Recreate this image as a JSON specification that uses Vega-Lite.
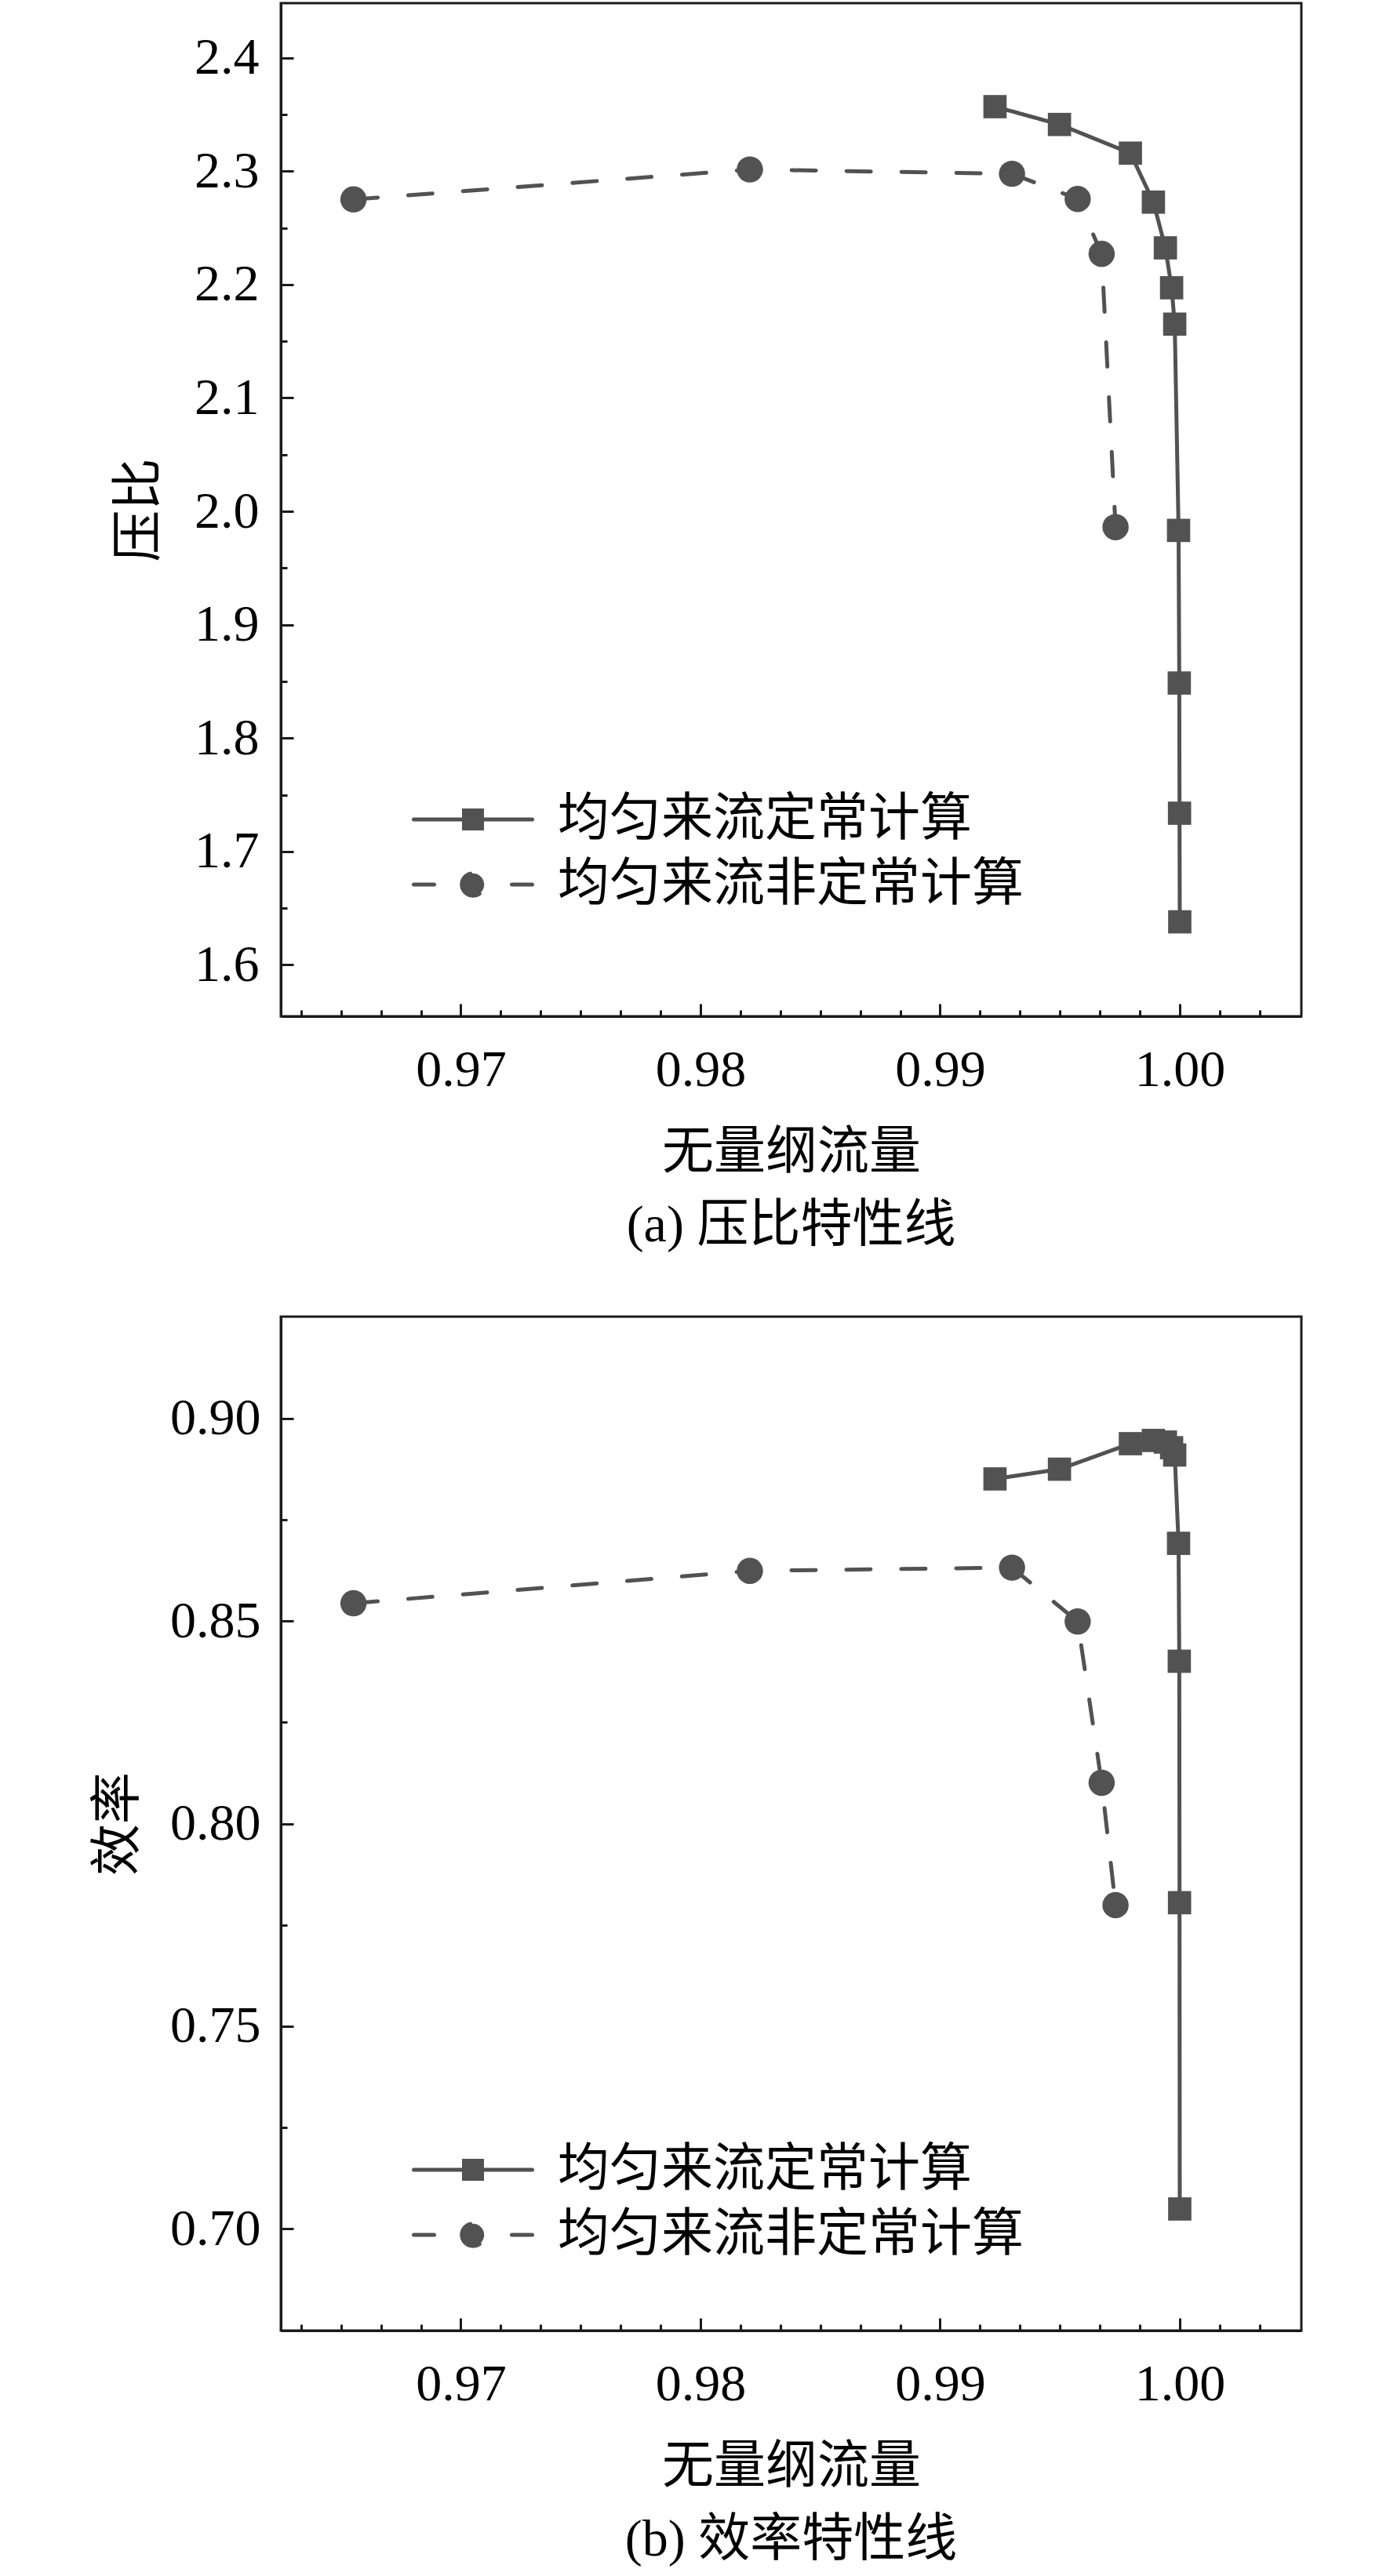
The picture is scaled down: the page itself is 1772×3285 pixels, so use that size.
{
  "$schema": "https://vega.github.io/schema/vega-lite/v6.json",
  "background": "white",
  "padding": {"left": 116, "top": 2, "right": 5, "bottom": 5},
  "spacing": 79,
  "datasets": {
    "points": [
      {"series": "均匀来流定常计算", "seq": 1, "flow": 0.99229, "pr": 2.3569, "eff": 0.8851},
      {"series": "均匀来流定常计算", "seq": 2, "flow": 0.99498, "pr": 2.3412, "eff": 0.8875},
      {"series": "均匀来流定常计算", "seq": 3, "flow": 0.99794, "pr": 2.3159, "eff": 0.8938},
      {"series": "均匀来流定常计算", "seq": 4, "flow": 0.99890, "pr": 2.2727, "eff": 0.8946},
      {"series": "均匀来流定常计算", "seq": 5, "flow": 0.99940, "pr": 2.2324, "eff": 0.8942},
      {"series": "均匀来流定常计算", "seq": 6, "flow": 0.99966, "pr": 2.1972, "eff": 0.8928},
      {"series": "均匀来流定常计算", "seq": 7, "flow": 0.99979, "pr": 2.1651, "eff": 0.8910},
      {"series": "均匀来流定常计算", "seq": 8, "flow": 0.99995, "pr": 1.9832, "eff": 0.8692},
      {"series": "均匀来流定常计算", "seq": 9, "flow": 0.99998, "pr": 1.8486, "eff": 0.8401},
      {"series": "均匀来流定常计算", "seq": 10, "flow": 0.99999, "pr": 1.7338, "eff": 0.7805},
      {"series": "均匀来流定常计算", "seq": 11, "flow": 1.00000, "pr": 1.6380, "eff": 0.7049},
      {"series": "均匀来流非定常计算", "seq": 1, "flow": 0.96552, "pr": 2.2751, "eff": 0.8544},
      {"series": "均匀来流非定常计算", "seq": 2, "flow": 0.98206, "pr": 2.3015, "eff": 0.8624},
      {"series": "均匀来流非定常计算", "seq": 3, "flow": 0.99300, "pr": 2.2977, "eff": 0.8632},
      {"series": "均匀来流非定常计算", "seq": 4, "flow": 0.99574, "pr": 2.2755, "eff": 0.8499},
      {"series": "均匀来流非定常计算", "seq": 5, "flow": 0.99674, "pr": 2.2271, "eff": 0.8101},
      {"series": "均匀来流非定常计算", "seq": 6, "flow": 0.99732, "pr": 1.9861, "eff": 0.7799}
    ]
  },
  "config": {
    "view": {"stroke": "#1a1a1a", "strokeWidth": 3},
    "axis": {
      "grid": false,
      "domainColor": "#1a1a1a",
      "domainWidth": 3,
      "tickColor": "#1a1a1a",
      "tickWidth": 3,
      "labelFont": "Liberation Serif",
      "labelFontSize": 66,
      "labelColor": "#000000",
      "labelOverlap": false,
      "labelFlush": false,
      "labelBound": false,
      "titleFont": "Noto Sans CJK SC",
      "titleFontSize": 66,
      "titleFontWeight": "normal",
      "titleColor": "#000000"
    },
    "legend": {
      "title": null,
      "orient": "none",
      "padding": 0,
      "rowPadding": 17,
      "symbolSize": 3721,
      "symbolStrokeWidth": 5,
      "symbolStrokeColor": "#525252",
      "symbolFillColor": "#525252",
      "labelFont": "Noto Sans CJK SC",
      "labelFontSize": 66,
      "labelColor": "#000000",
      "labelLimit": 1000,
      "labelOffset": 75
    },
    "title": {
      "font": "Liberation Serif, Noto Sans CJK SC",
      "fontSize": 66,
      "fontWeight": "normal",
      "color": "#000000"
    }
  },
  "resolve": {
    "scale": {"x": "independent", "y": "independent", "strokeDash": "independent"},
    "legend": {"strokeDash": "independent"}
  },
  "vconcat": [
    {
      "width": 1301,
      "height": 1292,
      "data": {"name": "points"},
      "title": {"text": "(a) 压比特性线", "orient": "bottom", "frame": "group", "anchor": "middle", "offset": 29},
      "encoding": {
        "x": {
          "field": "flow",
          "type": "quantitative",
          "scale": {"domain": [0.962488, 1.005074], "nice": false, "zero": false},
          "axis": {
            "title": "无量纲流量",
            "titlePadding": 32,
            "labelPadding": 52,
            "values": [0.963333, 0.965, 0.966667, 0.968333, 0.97, 0.971667, 0.973333, 0.975, 0.976667, 0.978333, 0.98, 0.981667, 0.983333, 0.985, 0.986667, 0.988333, 0.99, 0.991667, 0.993333, 0.995, 0.996667, 0.998333, 1.0, 1.001667, 1.003333],
            "labelExpr": "abs(datum.value * 100 - round(datum.value * 100)) < 0.01 ? format(datum.value, '.2f') : ''",
            "tickSize": {"condition": {"test": "abs(datum.value * 100 - round(datum.value * 100)) < 0.01", "value": -16}, "value": -8}
          }
        },
        "y": {
          "field": "pr",
          "type": "quantitative",
          "scale": {"domain": [1.5547, 2.4482], "nice": false, "zero": false},
          "axis": {
            "title": "压比",
            "titlePadding": 36,
            "labelPadding": 44,
            "values": [1.6, 1.65, 1.7, 1.75, 1.8, 1.85, 1.9, 1.95, 2.0, 2.05, 2.1, 2.15, 2.2, 2.25, 2.3, 2.35, 2.4],
            "labelExpr": "abs(datum.value * 10 - round(datum.value * 10)) < 0.01 ? format(datum.value, '.1f') : ''",
            "tickSize": {"condition": {"test": "abs(datum.value * 10 - round(datum.value * 10)) < 0.01", "value": -16}, "value": -8}
          }
        }
      },
      "layer": [
        {
          "mark": {"type": "line", "color": "#525252", "strokeWidth": 5, "strokeCap": "round"},
          "encoding": {
            "order": {"field": "seq", "type": "quantitative"},
            "strokeDash": {
              "field": "series",
              "type": "nominal",
              "scale": {"domain": ["均匀来流定常计算", "均匀来流非定常计算"], "range": [[1, 0], [31, 39]]},
              "legend": {
                "legendX": 212,
                "legendY": 1008,
                "encode": {
                  "symbols": {
                    "update": {
                      "shape": {"signal": "datum.value === '均匀来流非定常计算' ? 'M-2.475,0L-1.623,0M1.623,0L2.475,0M-0.467,0A0.467,0.467 0 1,0 0.467,0A0.467,0.467 0 1,0 -0.467,0Z' : 'M-2.475,0L2.475,0M-0.377,-0.377L0.377,-0.377L0.377,0.377L-0.377,0.377Z'"},
                      "strokeDash": {"value": [1, 0]},
                      "strokeCap": {"value": "round"},
                      "fill": {"value": "#525252"},
                      "stroke": {"value": "#525252"}
                    }
                  }
                }
              }
            }
          }
        },
        {
          "transform": [{"filter": "datum.series === '均匀来流定常计算'"}],
          "mark": {"type": "point", "shape": "square", "filled": true, "opacity": 1, "color": "#525252", "size": 880}
        },
        {
          "transform": [{"filter": "datum.series === '均匀来流非定常计算'"}],
          "mark": {"type": "point", "shape": "circle", "filled": true, "opacity": 1, "color": "#525252", "size": 1120}
        }
      ]
    },
    {
      "width": 1301,
      "height": 1293,
      "data": {"name": "points"},
      "title": {"text": "(b) 效率特性线", "orient": "bottom", "frame": "group", "anchor": "middle", "offset": 29},
      "encoding": {
        "x": {
          "field": "flow",
          "type": "quantitative",
          "scale": {"domain": [0.962488, 1.005074], "nice": false, "zero": false},
          "axis": {
            "title": "无量纲流量",
            "titlePadding": 32,
            "labelPadding": 52,
            "values": [0.963333, 0.965, 0.966667, 0.968333, 0.97, 0.971667, 0.973333, 0.975, 0.976667, 0.978333, 0.98, 0.981667, 0.983333, 0.985, 0.986667, 0.988333, 0.99, 0.991667, 0.993333, 0.995, 0.996667, 0.998333, 1.0, 1.001667, 1.003333],
            "labelExpr": "abs(datum.value * 100 - round(datum.value * 100)) < 0.01 ? format(datum.value, '.2f') : ''",
            "tickSize": {"condition": {"test": "abs(datum.value * 100 - round(datum.value * 100)) < 0.01", "value": -16}, "value": -8}
          }
        },
        "y": {
          "field": "eff",
          "type": "quantitative",
          "scale": {"domain": [0.67489, 0.92516], "nice": false, "zero": false},
          "axis": {
            "title": "效率",
            "titlePadding": 32,
            "labelPadding": 42,
            "values": [0.7, 0.725, 0.75, 0.775, 0.8, 0.825, 0.85, 0.875, 0.9],
            "labelExpr": "abs(datum.value * 20 - round(datum.value * 20)) < 0.01 ? format(datum.value, '.2f') : ''",
            "tickSize": {"condition": {"test": "abs(datum.value * 20 - round(datum.value * 20)) < 0.01", "value": -16}, "value": -8}
          }
        }
      },
      "layer": [
        {
          "mark": {"type": "line", "color": "#525252", "strokeWidth": 5, "strokeCap": "round"},
          "encoding": {
            "order": {"field": "seq", "type": "quantitative"},
            "strokeDash": {
              "field": "series",
              "type": "nominal",
              "scale": {"domain": ["均匀来流定常计算", "均匀来流非定常计算"], "range": [[1, 0], [31, 39]]},
              "legend": {
                "legendX": 212,
                "legendY": 1055,
                "encode": {
                  "symbols": {
                    "update": {
                      "shape": {"signal": "datum.value === '均匀来流非定常计算' ? 'M-2.475,0L-1.623,0M1.623,0L2.475,0M-0.467,0A0.467,0.467 0 1,0 0.467,0A0.467,0.467 0 1,0 -0.467,0Z' : 'M-2.475,0L2.475,0M-0.377,-0.377L0.377,-0.377L0.377,0.377L-0.377,0.377Z'"},
                      "strokeDash": {"value": [1, 0]},
                      "strokeCap": {"value": "round"},
                      "fill": {"value": "#525252"},
                      "stroke": {"value": "#525252"}
                    }
                  }
                }
              }
            }
          }
        },
        {
          "transform": [{"filter": "datum.series === '均匀来流定常计算'"}],
          "mark": {"type": "point", "shape": "square", "filled": true, "opacity": 1, "color": "#525252", "size": 880}
        },
        {
          "transform": [{"filter": "datum.series === '均匀来流非定常计算'"}],
          "mark": {"type": "point", "shape": "circle", "filled": true, "opacity": 1, "color": "#525252", "size": 1120}
        }
      ]
    }
  ]
}
